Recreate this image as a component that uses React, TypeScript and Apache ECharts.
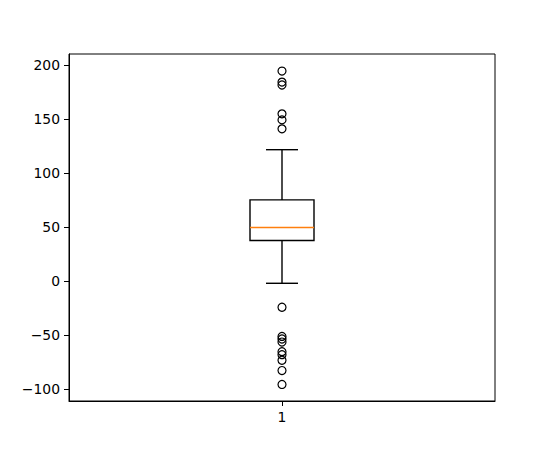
import React, { useEffect, useRef } from "react";
import * as echarts from "echarts";

const categories = ["1"];
// [lower whisker, Q1, median, Q3, upper whisker]
const boxStats = [[-2.1, 37.5, 49.5, 75.1, 121.6]];
const outliers = [194.4, 184.2, 181.5, 154.8, 149.2, 140.9, -24.3, -51.3, -53.7, -56.5, -65.4, -68.2, -73.4, -82.9, -95.8];
const yTicks = [-100, -50, 0, 50, 100, 150, 200];

const FONT = "DejaVu Sans";

export default function App() {
  const ref = useRef<HTMLDivElement>(null);
  useEffect(() => {
    if (!ref.current) return;
    const chart = echarts.init(ref.current, null, { renderer: "svg" });
    const fmt = (v: number) => (v < 0 ? "\u2212" + Math.abs(v) : String(v));
    chart.setOption({
      animation: false,
      backgroundColor: "#ffffff",
      grid: {
        left: 69,
        top: 54,
        width: 426,
        height: 347,
        show: true,
        borderColor: "#000",
        borderWidth: 1,
        backgroundColor: "transparent",
      },
      xAxis: {
        type: "category",
        data: categories,
        boundaryGap: true,
        axisLine: { show: true, onZero: false, lineStyle: { color: "#000", width: 1 } },
        axisTick: { show: true, alignWithLabel: true, length: 5, lineStyle: { color: "#000" } },
        axisLabel: { color: "#000", fontFamily: FONT, fontSize: 13.9, margin: 9 },
        splitLine: { show: false },
      },
      yAxis: {
        type: "value",
        min: -111.1,
        max: 210.2,
        axisLine: { show: true, lineStyle: { color: "#000", width: 1 } },
        axisTick: { show: true, length: 5, customValues: yTicks, lineStyle: { color: "#000" } },
        axisLabel: {
          color: "#000",
          fontFamily: FONT,
          fontSize: 13.9,
          margin: 9,
          customValues: yTicks,
          formatter: (v: number) => fmt(v),
        },
        splitLine: { show: false },
      },
      series: [
        {
          type: "custom",
          data: boxStats.map((s, i) => [i, ...s]),
          renderItem: (params: any, api: any) => {
            const idx = api.value(0);
            const lo = api.coord([idx, api.value(1)]);
            const q1 = api.coord([idx, api.value(2)]);
            const med = api.coord([idx, api.value(3)]);
            const q3 = api.coord([idx, api.value(4)]);
            const hi = api.coord([idx, api.value(5)]);
            const cx = lo[0];
            const hw = 32;
            const cw = 16;
            const ls = { stroke: "#000000", lineWidth: 1.4, fill: null };
            return {
              type: "group",
              children: [
                { type: "rect", shape: { x: cx - hw, y: q3[1], width: hw * 2, height: q1[1] - q3[1] }, style: { stroke: "#000000", lineWidth: 1.4, fill: null } },
                { type: "line", shape: { x1: cx, y1: q3[1], x2: cx, y2: hi[1] }, style: ls },
                { type: "line", shape: { x1: cx, y1: q1[1], x2: cx, y2: lo[1] }, style: ls },
                { type: "line", shape: { x1: cx - cw, y1: hi[1], x2: cx + cw, y2: hi[1] }, style: ls },
                { type: "line", shape: { x1: cx - cw, y1: lo[1], x2: cx + cw, y2: lo[1] }, style: ls },
                { type: "line", shape: { x1: cx - hw, y1: med[1], x2: cx + hw, y2: med[1] }, style: { stroke: "#ff7f0e", lineWidth: 1.4 } },
              ],
            };
          },
        },
        {
          type: "scatter",
          data: outliers.map((v) => [categories[0], v]),
          symbol: "circle",
          symbolSize: 8,
          itemStyle: { color: "rgba(0,0,0,0)", borderColor: "#000", borderWidth: 1.2, opacity: 1 },
        },
      ],
    });
    return () => chart.dispose();
  }, []);
  return <div ref={ref} style={{ width: 550, height: 450, margin: -8 }} />;
}
